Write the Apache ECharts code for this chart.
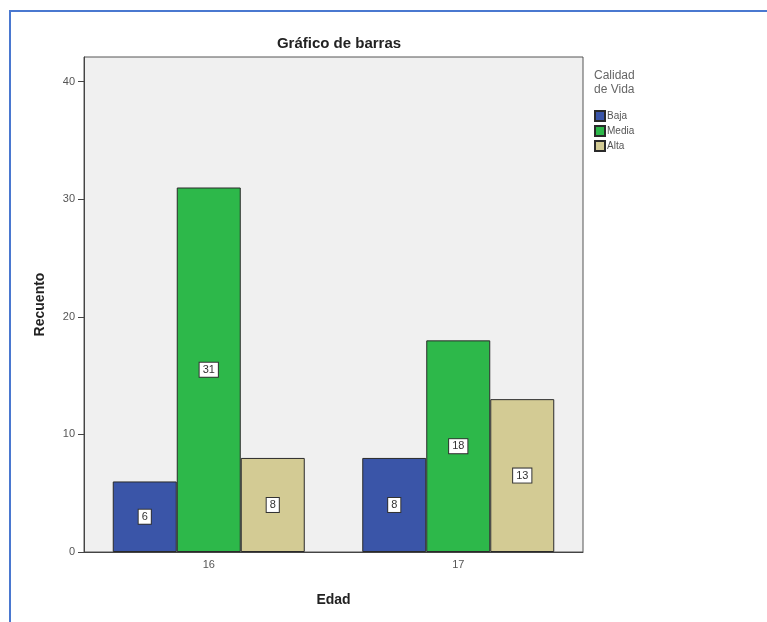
<!DOCTYPE html>
<html>
<head>
<meta charset="utf-8">
<script src="https://cdn.jsdelivr.net/npm/echarts@6/dist/echarts.min.js"></script>
<style>
  html, body { margin: 0; padding: 0; background: #ffffff; }
  #chart { width: 767px; height: 622px; }
</style>
</head>
<body>
<div id="chart"></div>
<script>
// Recuento por Edad y Calidad de Vida
const edades = ['16', '17'];
const baja = [6, 8];
const media = [31, 18];
const alta = [8, 13];
const yTicks = [0, 10, 20, 30, 40];

const chart = echarts.init(document.getElementById('chart'));

const labelStyle = {
  show: true,
  position: 'inside',
  color: '#333',
  fontFamily: 'Liberation Sans, Arial, sans-serif',
  fontSize: 11,
  backgroundColor: '#ffffff',
  borderColor: '#333333',
  borderWidth: 1,
  padding: [2, 3, 1, 3]
};

function barSeries(name, data, color) {
  return {
    name: name,
    type: 'bar',
    data: data,
    barWidth: 64,
    barGap: '0%',
    itemStyle: { color: color, borderColor: '#2a2a2a', borderWidth: 1 },
    label: labelStyle,
    emphasis: { disabled: true }
  };
}

chart.setOption({
  animation: false,
  backgroundColor: '#ffffff',
  textStyle: { fontFamily: 'Liberation Sans, Arial, sans-serif' },
  title: [
    {
      text: 'Gráfico de barras',
      left: 334,
      top: 31,
      textAlign: 'center',
      textStyle: { fontSize: 15, fontWeight: 'bold', color: '#222' }
    },
    {
      text: 'Calidad\nde Vida',
      left: 589,
      top: 64,
      textStyle: { fontSize: 12, fontWeight: 'normal', color: '#666', lineHeight: 14 }
    }
  ],
  legend: {
    orient: 'vertical',
    left: 589,
    top: 105,
    itemWidth: 10,
    itemHeight: 10,
    itemGap: 3,
    icon: 'rect',
    selectedMode: false,
    textStyle: { fontSize: 10, color: '#555', padding: [0, 0, 0, -3] },
    data: ['Baja', 'Media', 'Alta']
  },
  grid: {
    left: 84,
    right: 184,
    top: 57,
    bottom: 70,
    show: true,
    backgroundColor: '#f0f0f0',
    borderColor: '#555',
    borderWidth: 1
  },
  xAxis: {
    type: 'category',
    data: edades,
    name: 'Edad',
    nameLocation: 'middle',
    nameGap: 41,
    nameTextStyle: { fontSize: 14, fontWeight: 'bold', color: '#222' },
    axisLine: { lineStyle: { color: '#444' } },
    axisTick: { alignWithLabel: true, length: 5, lineStyle: { color: '#444' } },
    axisLabel: { fontSize: 11, color: '#555', margin: 7 }
  },
  yAxis: {
    type: 'value',
    min: 0,
    max: 42.1,
    interval: 10,
    name: 'Recuento',
    nameLocation: 'middle',
    nameGap: 37,
    nameTextStyle: { fontSize: 14, fontWeight: 'bold', color: '#222' },
    axisLine: { show: true, lineStyle: { color: '#444' } },
    axisTick: { show: true, length: 6, customValues: yTicks, lineStyle: { color: '#444' } },
    axisLabel: { fontSize: 11, color: '#555', margin: 9, customValues: yTicks },
    splitLine: { show: false }
  },
  graphic: [
    {
      type: 'polyline',
      shape: { points: [[10, 640], [10, 11], [780, 11]] },
      style: { stroke: '#4a78d0', lineWidth: 2, fill: null },
      silent: true
    }
  ],
  series: [
    barSeries('Baja', baja, '#3a55a8'),
    barSeries('Media', media, '#2db84a'),
    barSeries('Alta', alta, '#d3cb94')
  ]
});
</script>
</body>
</html>
